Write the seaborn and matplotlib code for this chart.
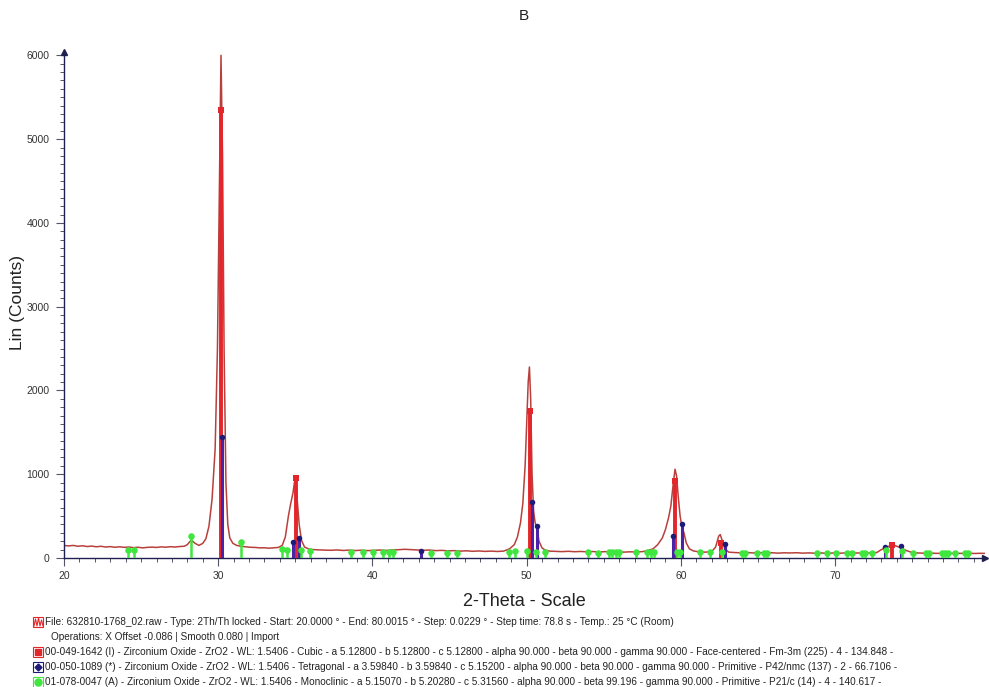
import numpy as np
import pandas as pd
import matplotlib
matplotlib.use("Agg")
import matplotlib.pyplot as plt
from matplotlib.lines import Line2D
from matplotlib.patches import Rectangle
from matplotlib.ticker import MultipleLocator
import seaborn as sns

two_theta = [20.0, 20.3, 20.6, 20.9, 21.2, 21.5, 21.8, 22.1, 22.4, 22.7, 23.0, 23.3,
             23.6, 23.9, 24.2, 24.5, 24.8, 25.1, 25.4, 25.7, 26.0, 26.3, 26.6, 26.9,
             27.2, 27.5, 27.8, 28.0, 28.25, 28.5, 28.75, 29.0, 29.2, 29.4, 29.6, 29.8,
             29.95, 30.08, 30.18, 30.28, 30.38, 30.5, 30.62, 30.75, 30.95, 31.2, 31.5,
             31.8, 32.1, 32.4, 32.7, 33.0, 33.3, 33.6, 33.9, 34.15, 34.35, 34.55, 34.7,
             34.85, 35.0, 35.12, 35.25, 35.4, 35.6, 35.9, 36.2, 36.5, 36.9, 37.3, 37.7,
             38.1, 38.5, 38.9, 39.3, 39.7, 40.1, 40.5, 40.9, 41.3, 41.7, 42.1, 42.5,
             42.9, 43.3, 43.7, 44.1, 44.5, 44.9, 45.3, 45.7, 46.1, 46.5, 46.9, 47.3,
             47.7, 48.1, 48.5, 48.9, 49.2, 49.4, 49.6, 49.75, 49.9, 50.0, 50.1, 50.18,
             50.26, 50.35, 50.45, 50.55, 50.65, 50.8, 51.0, 51.2, 51.5, 51.9, 52.3,
             52.7, 53.1, 53.5, 53.9, 54.3, 54.7, 55.1, 55.5, 55.9, 56.3, 56.7, 57.1,
             57.5, 57.8, 58.2, 58.5, 58.8, 59.0, 59.2, 59.35, 59.5, 59.62, 59.72, 59.82,
             59.95, 60.08, 60.2, 60.35, 60.55, 60.8, 61.2, 61.6, 62.0, 62.25, 62.45,
             62.55, 62.7, 62.85, 63.1, 63.5, 63.9, 64.3, 64.7, 65.1, 65.5, 65.9, 66.3,
             66.7, 67.1, 67.5, 67.9, 68.3, 68.7, 69.1, 69.5, 69.9, 70.3, 70.7, 71.1,
             71.5, 71.9, 72.3, 72.7, 73.0, 73.3, 73.6, 73.8, 74.0, 74.3, 74.6, 75.0,
             75.4, 75.8, 76.2, 76.6, 77.0, 77.4, 77.8, 78.2, 78.6, 79.0, 79.4, 79.7]
counts = [150, 144, 150, 140, 146, 137, 142, 134, 140, 131, 136, 128,
          134, 127, 131, 124, 128, 121, 127, 130, 126, 133, 129, 135,
          131, 137, 140, 160, 215, 175, 150, 175, 230, 380, 700, 1300,
          2500, 4500, 6000, 4800, 2500, 900, 400, 240, 175, 150, 140,
          133, 128, 126, 121, 122, 117, 121, 126, 150, 250, 500, 650,
          780, 975, 700, 400, 210, 130, 106, 100, 97, 95, 92, 96,
          90, 94, 89, 93, 88, 92, 95, 90, 96, 99, 104, 100,
          97, 92, 95, 88, 91, 85, 88, 82, 86, 80, 84, 79,
          82, 78, 82, 110, 160, 250, 420, 650, 1100, 1600, 2100, 2280,
          1900, 1000, 560, 420, 370, 200, 120, 95, 82, 79, 76,
          80, 75, 78, 74, 77, 72, 76, 71, 75, 70, 74, 72,
          76, 85, 110, 160, 240, 340, 480, 620, 880, 1060, 980, 750,
          500, 360, 300, 180, 110, 85, 72, 70, 78, 130, 260,
          280, 200, 110, 70, 65, 62, 66, 60, 64, 59, 63, 58,
          62, 60, 63, 58, 61, 57, 60, 56, 60, 57, 61, 58,
          60, 57, 60, 65, 100, 125, 150, 155, 140, 120, 90, 65,
          60, 57, 59, 55, 58, 54, 57, 55, 58, 54, 56, 55]

# reference pattern 00-049-1642, cubic ZrO2
cubic_pos = [30.2, 35.02, 50.2, 59.62, 62.57, 73.68]
cubic_int = [5350, 960, 1750, 920, 175, 150]

# reference pattern 00-050-1089, tetragonal ZrO2
tetra_pos = [30.27, 34.84, 35.27, 43.15, 50.33, 50.66, 59.46, 60.09, 62.85, 73.25, 74.28]
tetra_int = [1450, 190, 240, 88, 670, 380, 262, 405, 165, 130, 140]

# reference pattern 01-078-0047, monoclinic ZrO2
mono_pos = [24.14, 24.53, 28.26, 31.5, 34.15, 34.48, 35.34, 35.92, 38.62, 39.42,
            40.02, 40.71, 41.1, 41.31, 43.8, 44.83, 45.48, 48.87, 49.26, 50.05,
            50.6, 51.18, 54.0, 54.65, 55.34, 55.56, 55.77, 55.99, 57.07, 57.82,
            58.04, 58.25, 59.76, 59.93, 61.27, 61.88, 62.65, 63.97, 64.19, 64.94,
            65.37, 65.59, 68.82, 69.47, 70.05, 70.8, 71.09, 71.73, 71.95, 72.38,
            73.31, 74.35, 75.08, 75.88, 76.1, 76.91, 77.13, 77.35, 77.78, 78.4, 78.63]
mono_int = [95, 90, 260, 190, 105, 100, 90, 80, 75, 70,
            70, 72, 70, 70, 65, 65, 65, 75, 80, 80,
            75, 70, 70, 65, 70, 70, 70, 70, 70, 70,
            70, 70, 75, 75, 70, 70, 70, 60, 60, 60,
            60, 60, 60, 55, 55, 55, 55, 55, 55, 55,
            90, 85, 55, 55, 55, 55, 55, 55, 55, 55, 55]

legend_lines = [
    "File: 632810-1768_02.raw - Type: 2Th/Th locked - Start: 20.0000 \u00b0 - End: 80.0015 \u00b0 - Step: 0.0229 \u00b0 - Step time: 78.8 s - Temp.: 25 \u00b0C (Room)",
    "Operations: X Offset -0.086 | Smooth 0.080 | Import",
    "00-049-1642 (I) - Zirconium Oxide - ZrO2 - WL: 1.5406 - Cubic - a 5.12800 - b 5.12800 - c 5.12800 - alpha 90.000 - beta 90.000 - gamma 90.000 - Face-centered - Fm-3m (225) - 4 - 134.848 -",
    "00-050-1089 (*) - Zirconium Oxide - ZrO2 - WL: 1.5406 - Tetragonal - a 3.59840 - b 3.59840 - c 5.15200 - alpha 90.000 - beta 90.000 - gamma 90.000 - Primitive - P42/nmc (137) - 2 - 66.7106 -",
    "01-078-0047 (A) - Zirconium Oxide - ZrO2 - WL: 1.5406 - Monoclinic - a 5.15070 - b 5.20280 - c 5.31560 - alpha 90.000 - beta 99.196 - gamma 90.000 - Primitive - P21/c (14) - 4 - 140.617 -",
]

RED = "#e3262b"
CURVE = "#b8403c"
BLUE = "#4a23a6"
NAVY = "#1c1c78"
GREEN = "#3ee63e"
AXIS = "#1e2050"

sns.set_style("white")
plt.rcParams['font.family'] = ['Liberation Sans', 'DejaVu Sans']

W, H = 989, 687
fig = plt.figure(figsize=(W / 100, H / 100), dpi=100)
ax = fig.add_axes([64 / W, 1 - 558 / H, 921 / W, 506 / H])

def fp(x, y):
    # pixel position -> figure fraction
    return x / W, 1 - y / H

scan = pd.DataFrame({"two_theta": two_theta, "counts": counts})
sns.lineplot(data=scan, x="two_theta", y="counts", sort=False, estimator=None,
             color=CURVE, lw=1.1, ax=ax, zorder=2)

ax.vlines(cubic_pos, 0, cubic_int, color=RED, lw=2.8, zorder=3)
sns.scatterplot(x=cubic_pos, y=cubic_int, marker="s", s=24, color=RED,
                linewidth=0, ax=ax, zorder=4)
ax.vlines(tetra_pos, 0, tetra_int, color=BLUE, lw=2.2, zorder=5)
sns.scatterplot(x=tetra_pos, y=tetra_int, marker="o", s=16, color=NAVY,
                linewidth=0, ax=ax, zorder=6)
ax.vlines(mono_pos, 0, mono_int, color=GREEN, lw=1.8, zorder=7)
sns.scatterplot(x=mono_pos, y=mono_int, marker="o", s=22, color=GREEN,
                linewidth=0, ax=ax, zorder=8)

ax.set_xlim(20, 79.72)
ax.set_ylim(0, 6040)
ax.xaxis.set_major_locator(MultipleLocator(10))
ax.xaxis.set_minor_locator(MultipleLocator(1))
ax.yaxis.set_major_locator(MultipleLocator(1000))
ax.yaxis.set_minor_locator(MultipleLocator(100))
ax.set_xticks([20, 30, 40, 50, 60, 70])
ax.tick_params(axis="both", which="major", direction="out", length=5.5, width=0.8,
               color="#555566", labelsize=7.5, labelcolor="#333333", pad=5,
               left=True, bottom=True)
ax.tick_params(axis="both", which="minor", direction="out", length=3, width=0.7,
               color="#555566", left=True, bottom=True)
ax.tick_params(axis="x", which="major", pad=4)

for side in ["top", "right"]:
    ax.spines[side].set_visible(False)
for side in ["left", "bottom"]:
    ax.spines[side].set_color(AXIS)
    ax.spines[side].set_linewidth(1.0)

ax.plot([0], [1], marker="^", ms=5, color=AXIS, transform=ax.transAxes, clip_on=False)
ax.plot([1], [0], marker=">", ms=5, color=AXIS, transform=ax.transAxes, clip_on=False)

ax.set_xlabel("")
ax.set_ylabel("")
fig.text(*fp(18, 302), "Lin (Counts)", rotation=90, ha="center", va="center",
         fontsize=12.5, color="#222222")
fig.text(*fp(524, 602), "2-Theta - Scale", ha="center", va="center",
         fontsize=13, color="#222222")
fig.text(*fp(524, 16), "B", ha="center", va="center", fontsize=11, color="#222222")

# legend block under the plot
ys = [622, 637, 652, 667, 682]
xs = [45, 51, 45, 45, 45]
for txt, x, y in zip(legend_lines, xs, ys):
    fig.text(*fp(x, y), txt, ha="left", va="center", fontsize=7.2, color="#222222")

# little icons in front of the legend lines
def box(x, y, edge):
    fig.add_artist(Rectangle(fp(x - 5, y + 5), 10 / W, 10 / H, transform=fig.transFigure,
                             facecolor="white", edgecolor=edge, lw=0.8))

box(38, 622, RED)
zx = np.array([34, 35.5, 37, 38.5, 40, 41.5, 43]) / W
zy = 1 - np.array([626, 619, 626, 618, 626, 620, 626]) / H
fig.add_artist(Line2D(zx, zy, color=RED, lw=0.8, transform=fig.transFigure))
box(38, 652, RED)
fig.add_artist(Line2D([38 / W], [1 - 652 / H], marker="s", ms=5, color=RED, lw=0,
                      transform=fig.transFigure))
box(38, 667, NAVY)
fig.add_artist(Line2D([38 / W], [1 - 667 / H], marker="D", ms=3.5, color=NAVY, lw=0,
                      transform=fig.transFigure))
box(38, 682, GREEN)
fig.add_artist(Line2D([38 / W], [1 - 682 / H], marker="o", ms=5, color=GREEN, lw=0,
                      transform=fig.transFigure))

fig.savefig("out.png", dpi=100)
